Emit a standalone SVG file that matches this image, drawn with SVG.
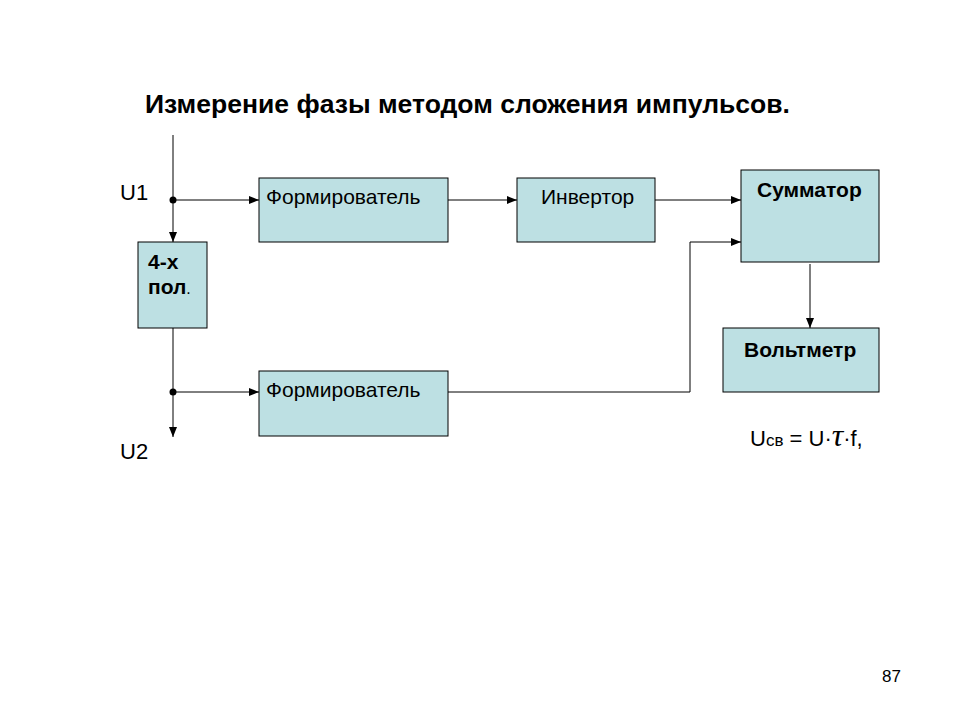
<svg xmlns="http://www.w3.org/2000/svg" width="960" height="720" viewBox="0 0 960 720">
<style>
.box{fill:#bde0e3;stroke:#000;stroke-width:1}
.t{font-family:"Liberation Sans",Arial,sans-serif;fill:#000}
.b{font-weight:bold}
.ln{stroke:#000;stroke-width:1;fill:none}
.bt{font-size:21px}
</style>
<defs>
<marker id="ar" markerWidth="10" markerHeight="8" refX="10" refY="4" orient="auto" markerUnits="userSpaceOnUse">
<path d="M0,0 L10,4 L0,8 Z" fill="#000"/>
</marker>
</defs>
<rect width="960" height="720" fill="#fff"/>
<text class="t b" x="145" y="113" font-size="25" textLength="645" lengthAdjust="spacingAndGlyphs">Измерение фазы методом сложения импульсов.</text>
<text class="t" x="120" y="200" font-size="22">U1</text>
<text class="t" x="120" y="459" font-size="22">U2</text>

<g id="connectors">
<path class="ln" d="M173,135 V242" marker-end="url(#ar)"/>
<path class="ln" d="M173,200 H259" marker-end="url(#ar)"/>
<path class="ln" d="M448,200 H517" marker-end="url(#ar)"/>
<path class="ln" d="M655,200 H741" marker-end="url(#ar)"/>
<path class="ln" d="M173,328 V437" marker-end="url(#ar)"/>
<path class="ln" d="M173,392 H259" marker-end="url(#ar)"/>
<path class="ln" d="M448,392 H690 V242 H741" marker-end="url(#ar)"/>
<path class="ln" d="M810,264 V328" marker-end="url(#ar)"/>
<circle cx="173" cy="200" r="3.5" fill="#000"/>
<circle cx="173" cy="392" r="3.5" fill="#000"/>
</g>

<g id="form1">
<rect class="box" x="259" y="178" width="189" height="64"/>
<text class="t bt" x="266" y="204">Формирователь</text>
</g>
<g id="invertor">
<rect class="box" x="517" y="178" width="138" height="64"/>
<text class="t bt" x="541" y="204">Инвертор</text>
</g>
<g id="summator">
<rect class="box" x="741" y="170" width="138" height="92"/>
<text class="t b bt" x="757" y="197">Сумматор</text>
</g>
<g id="voltmeter">
<rect class="box" x="723" y="328" width="156" height="64"/>
<text class="t b bt" x="744" y="357">Вольтметр</text>
</g>
<g id="fourpole">
<rect class="box" x="138" y="242" width="69" height="86"/>
<text class="t b bt" x="148" y="269">4-х</text>
<text class="t bt" x="148" y="294"><tspan font-weight="bold">пол</tspan><tspan font-size="16">.</tspan></text>
</g>
<g id="form2">
<rect class="box" x="259" y="371" width="189" height="65"/>
<text class="t bt" x="266" y="397">Формирователь</text>
</g>
<text class="t" x="750" y="446" font-size="22">U<tspan font-size="17">св</tspan> = U·<tspan font-family="'Liberation Serif',serif" font-style="italic" font-size="32">τ</tspan>·f,</text>
<text class="t" x="882" y="682" font-size="17">87</text>
</svg>
